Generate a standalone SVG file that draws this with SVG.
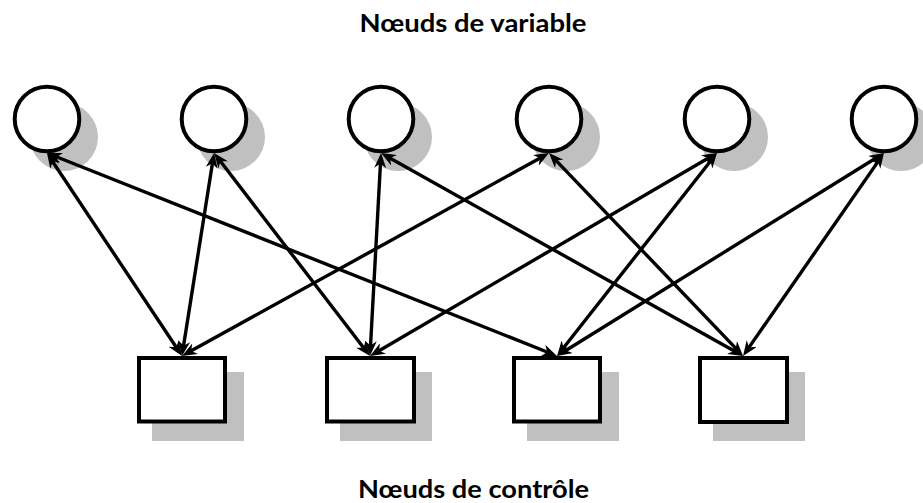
<svg xmlns="http://www.w3.org/2000/svg" width="923" height="503" viewBox="0 0 923 503">
<style>
.shadow{fill:#c0c0c0;stroke:none}
.node{fill:#ffffff;stroke:#000000;stroke-width:4}
.edge{stroke:#000000;stroke-width:3.4;fill:none;marker-start:url(#arr);marker-end:url(#arr)}
.label{font-family:Lato,"Liberation Sans",Arial,sans-serif;font-weight:bold;font-size:25px;fill:#000000;text-anchor:middle}
</style>
<defs>
<marker id="arr" markerUnits="userSpaceOnUse" viewBox="0 0 15 12" markerWidth="15" markerHeight="12" refX="7" refY="6" orient="auto-start-reverse">
<path d="M0,0 L15,6 L0,12 L4.5,6 Z" fill="#000000"/>
</marker>
</defs>
<rect width="923" height="503" fill="#ffffff"/>
<text class="label" x="473" y="32" textLength="227" lengthAdjust="spacingAndGlyphs">Nœuds de variable</text>
<text class="label" x="473.5" y="498" textLength="231" lengthAdjust="spacingAndGlyphs">Nœuds de contrôle</text>

<g id="v1"><circle class="shadow" cx="64" cy="137" r="34"/><circle class="node" cx="47" cy="119" r="32.3"/></g>
<g id="v2"><circle class="shadow" cx="231" cy="137" r="34"/><circle class="node" cx="214" cy="119" r="32.3"/></g>
<g id="v3"><circle class="shadow" cx="398" cy="137" r="34"/><circle class="node" cx="381" cy="119" r="32.3"/></g>
<g id="v4"><circle class="shadow" cx="566" cy="137" r="34"/><circle class="node" cx="549" cy="119" r="32.3"/></g>
<g id="v5"><circle class="shadow" cx="734" cy="137" r="34"/><circle class="node" cx="717" cy="119" r="32.3"/></g>
<g id="v6"><circle class="shadow" cx="901" cy="137" r="34"/><circle class="node" cx="884" cy="119" r="32.3"/></g>

<g id="c1"><rect class="shadow" x="152" y="372" width="92" height="69"/><rect class="node" x="139" y="358" width="86" height="63.5"/></g>
<g id="c2"><rect class="shadow" x="340" y="372" width="92" height="69"/><rect class="node" x="327" y="358" width="87" height="63.5"/></g>
<g id="c3"><rect class="shadow" x="527" y="372" width="92" height="69"/><rect class="node" x="514" y="358" width="86" height="63.5"/></g>
<g id="c4"><rect class="shadow" x="713" y="372" width="92" height="69"/><rect class="node" x="700" y="358" width="87" height="64"/></g>

<g id="connectors">
<line class="edge" x1="51.4" y1="159.7" x2="177.6" y2="349.3"/>
<line class="edge" x1="54.4" y1="156.0" x2="549.6" y2="353.0"/>
<line class="edge" x1="212.8" y1="160.9" x2="183.2" y2="348.1"/>
<line class="edge" x1="218.9" y1="159.3" x2="365.1" y2="349.7"/>
<line class="edge" x1="380.6" y1="161.0" x2="370.4" y2="348.0"/>
<line class="edge" x1="388.0" y1="156.9" x2="736.0" y2="352.1"/>
<line class="edge" x1="542.0" y1="156.9" x2="189.0" y2="352.1"/>
<line class="edge" x1="554.5" y1="158.8" x2="737.5" y2="350.2"/>
<line class="edge" x1="710.1" y1="157.0" x2="376.9" y2="352.0"/>
<line class="edge" x1="712.0" y1="159.3" x2="562.0" y2="349.7"/>
<line class="edge" x1="877.2" y1="157.2" x2="563.8" y2="351.8"/>
<line class="edge" x1="879.4" y1="159.6" x2="747.6" y2="349.4"/>
</g>
</svg>
